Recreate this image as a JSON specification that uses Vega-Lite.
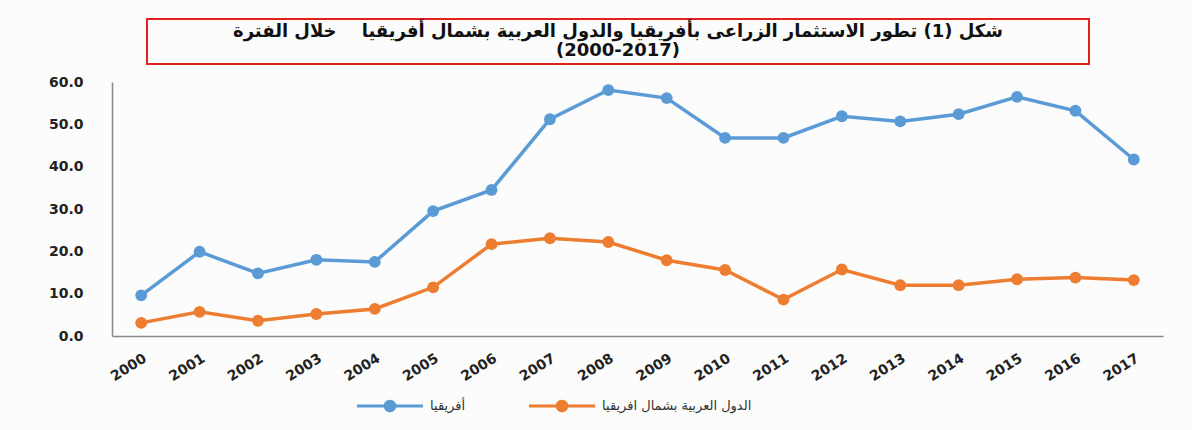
{
  "$schema": "https://vega.github.io/schema/vega-lite/v6.json",
  "background": "#fcfcfc",
  "padding": {"left": 48, "top": 18, "right": 30, "bottom": 20},
  "spacing": 10,
  "config": {"view": {"stroke": null}},
  "vconcat": [
    {
      "spacing": 10,
      "hconcat": [
        {
          "width": 24,
          "height": 45,
          "data": {"values": [{"k": "s"}]},
          "mark": {"type": "text"},
          "encoding": {"text": {"value": ""}}
        },
        {
          "width": 942,
          "height": 45,
          "view": {"stroke": "#e4201e", "strokeWidth": 2},
          "data": {"values": [{"t": "شكل (1) تطور الاستثمار الزراعى بأفريقيا والدول العربية بشمال أفريقيا\u00a0\u00a0\u00a0 خلال الفترة\n(2000-2017)"}]},
          "mark": {"type": "text", "font": "DejaVu Sans", "fontWeight": "bold", "fontSize": 18, "lineBreak": "\n", "lineHeight": 19, "color": "#111", "baseline": "middle", "align": "center", "dy": -10},
          "encoding": {"text": {"field": "t"}}
        }
      ]
    },
    {
      "width": 1051,
      "height": 254,
      "data": {"values": [
        {"year": "2000", "series": "أفريقيا", "value": 9.6},
        {"year": "2001", "series": "أفريقيا", "value": 19.9},
        {"year": "2002", "series": "أفريقيا", "value": 14.8},
        {"year": "2003", "series": "أفريقيا", "value": 18.0},
        {"year": "2004", "series": "أفريقيا", "value": 17.5},
        {"year": "2005", "series": "أفريقيا", "value": 29.5},
        {"year": "2006", "series": "أفريقيا", "value": 34.5},
        {"year": "2007", "series": "أفريقيا", "value": 51.2},
        {"year": "2008", "series": "أفريقيا", "value": 58.1},
        {"year": "2009", "series": "أفريقيا", "value": 56.2},
        {"year": "2010", "series": "أفريقيا", "value": 46.8},
        {"year": "2011", "series": "أفريقيا", "value": 46.8},
        {"year": "2012", "series": "أفريقيا", "value": 51.9},
        {"year": "2013", "series": "أفريقيا", "value": 50.7},
        {"year": "2014", "series": "أفريقيا", "value": 52.4},
        {"year": "2015", "series": "أفريقيا", "value": 56.5},
        {"year": "2016", "series": "أفريقيا", "value": 53.2},
        {"year": "2017", "series": "أفريقيا", "value": 41.7},
        {"year": "2000", "series": "الدول العربية بشمال افريقيا", "value": 3.1},
        {"year": "2001", "series": "الدول العربية بشمال افريقيا", "value": 5.7},
        {"year": "2002", "series": "الدول العربية بشمال افريقيا", "value": 3.6},
        {"year": "2003", "series": "الدول العربية بشمال افريقيا", "value": 5.2},
        {"year": "2004", "series": "الدول العربية بشمال افريقيا", "value": 6.4},
        {"year": "2005", "series": "الدول العربية بشمال افريقيا", "value": 11.5},
        {"year": "2006", "series": "الدول العربية بشمال افريقيا", "value": 21.7},
        {"year": "2007", "series": "الدول العربية بشمال افريقيا", "value": 23.1},
        {"year": "2008", "series": "الدول العربية بشمال افريقيا", "value": 22.2},
        {"year": "2009", "series": "الدول العربية بشمال افريقيا", "value": 17.9},
        {"year": "2010", "series": "الدول العربية بشمال افريقيا", "value": 15.6},
        {"year": "2011", "series": "الدول العربية بشمال افريقيا", "value": 8.6},
        {"year": "2012", "series": "الدول العربية بشمال افريقيا", "value": 15.7},
        {"year": "2013", "series": "الدول العربية بشمال افريقيا", "value": 12.0},
        {"year": "2014", "series": "الدول العربية بشمال افريقيا", "value": 12.0},
        {"year": "2015", "series": "الدول العربية بشمال افريقيا", "value": 13.4},
        {"year": "2016", "series": "الدول العربية بشمال افريقيا", "value": 13.8},
        {"year": "2017", "series": "الدول العربية بشمال افريقيا", "value": 13.2}
      ]},
      "encoding": {
        "x": {
          "field": "year", "type": "ordinal",
          "scale": {"type": "point", "padding": 0.5},
          "axis": {"title": null, "ticks": false, "grid": false, "labelAngle": -32, "labelAlign": "right", "labelBaseline": "top", "labelPadding": 15, "domainColor": "#888", "domainWidth": 1.5, "labelFont": "DejaVu Sans", "labelFontWeight": "bold", "labelFontSize": 14, "labelColor": "#222"}
        },
        "y": {
          "field": "value", "type": "quantitative",
          "scale": {"domain": [0, 60], "nice": false},
          "axis": {"title": null, "values": [0, 10, 20, 30, 40, 50, 60], "format": ".1f", "grid": false, "ticks": false, "domainColor": "#888", "domainWidth": 1.5, "labelFont": "DejaVu Sans", "labelFontWeight": "bold", "labelFontSize": 14, "labelColor": "#222", "labelPadding": 29}
        },
        "color": {
          "field": "series", "type": "nominal",
          "scale": {"domain": ["أفريقيا", "الدول العربية بشمال افريقيا"], "range": ["#5b9bd5", "#ed7d31"]},
          "legend": {
            "title": null, "orient": "none", "direction": "horizontal", "legendX": 245, "legendY": 354, "padding": 0,
            "symbolType": "M-1,-0.045L1,-0.045L1,0.045L-1,0.045Z M0.19,0A0.19,0.19,0,1,1,-0.19,0A0.19,0.19,0,1,1,0.19,0Z",
            "symbolSize": 4356, "symbolStrokeWidth": 0, "labelOffset": 7, "columnPadding": 63,
            "labelFont": "DejaVu Sans", "labelFontSize": 13, "labelColor": "#333",
            "encode": {"symbols": {"update": {"fill": {"scale": "color", "field": "value"}, "stroke": {"value": "transparent"}, "opacity": {"value": 1}}}}
          }
        }
      },
      "layer": [
        {"mark": {"type": "line", "strokeWidth": 3.5}},
        {"mark": {"type": "point", "filled": true, "size": 140, "opacity": 1}}
      ]
    }
  ]
}
